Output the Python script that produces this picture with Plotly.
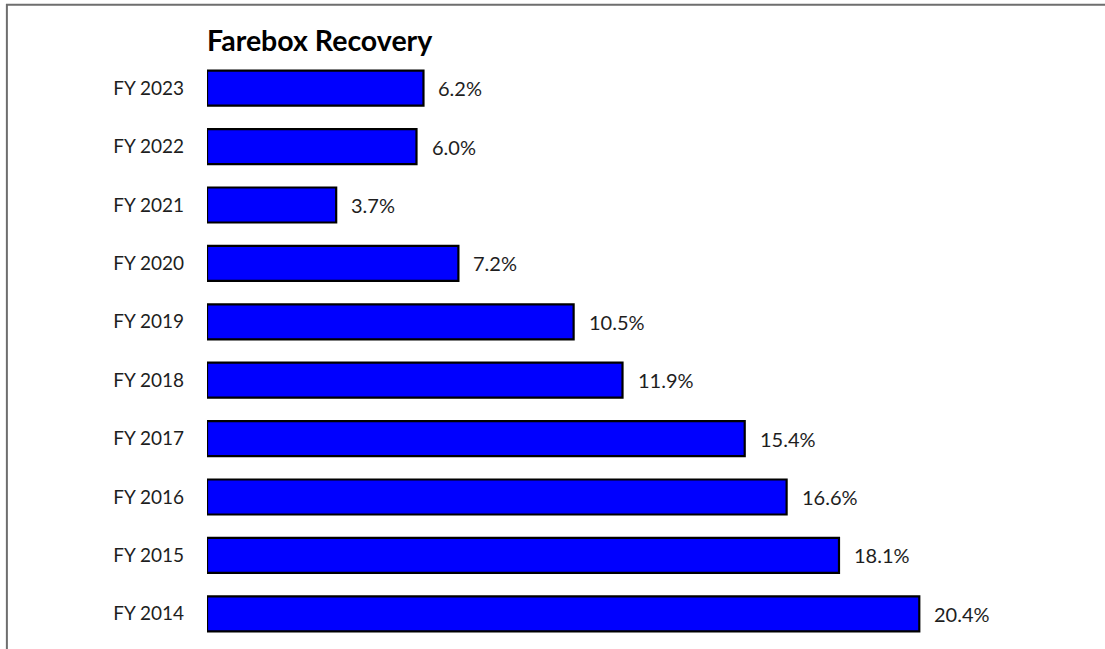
import plotly.graph_objects as go

categories = ["FY 2014", "FY 2015", "FY 2016", "FY 2017", "FY 2018",
              "FY 2019", "FY 2020", "FY 2021", "FY 2022", "FY 2023"]
values = [20.4, 18.1, 16.6, 15.4, 11.9, 10.5, 7.2, 3.7, 6.0, 6.2]
value_labels = ["20.4%", "18.1%", "16.6%", "15.4%", "11.9%",
                "10.5%", "7.2%", "3.7%", "6.0%", "6.2%"]

FONT = "Lato"
TEXT_COLOR = "#1e1e1e"

fig = go.Figure()
fig.add_trace(go.Bar(
    y=categories, x=values, orientation="h",
    marker=dict(color="#0000FF", line=dict(color="#000000", width=2.2)),
    width=0.6, hoverinfo="skip",
))

for c, v, t in zip(categories, values, value_labels):
    fig.add_annotation(x=v, y=c, text=t, showarrow=False, xanchor="left",
                       xshift=13, font=dict(family=FONT, size=20, color=TEXT_COLOR))

fig.add_shape(type="rect", xref="paper", yref="paper",
              x0=-0.2388, x1=1.2, y0=-0.2, y1=1.0929,
              line=dict(color="#6e6e6e", width=2), layer="below")

fig.update_layout(
    width=1105, height=649,
    margin=dict(l=207, r=60.4, t=58.8, b=5.8),
    paper_bgcolor="white", plot_bgcolor="white",
    showlegend=False,
    title=dict(text="<b>Farebox Recovery</b>", x=0, xref="paper", xanchor="left",
               y=1 - 41 / 649, yanchor="middle", yref="container",
               font=dict(family=FONT, size=28.5, color="#000000")),
    xaxis=dict(range=[0, 24], visible=False, fixedrange=True),
    yaxis=dict(categoryorder="array", categoryarray=categories,
               tickfont=dict(family=FONT, size=19, color=TEXT_COLOR),
               showline=False, showgrid=False, ticks="", ticklen=0,
               ticklabelstandoff=22, automargin=False, fixedrange=True),
)

fig.write_html("out.html", config={"displayModeBar": False},
               post_script="document.body.style.margin='0';")
